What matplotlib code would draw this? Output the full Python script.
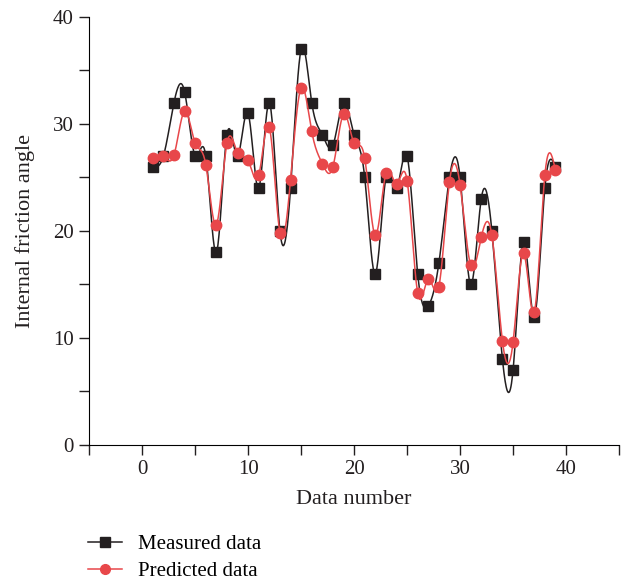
import numpy as np
import matplotlib.pyplot as plt
from matplotlib.ticker import MultipleLocator

plt.rcParams['font.family'] = ['Liberation Serif', 'DejaVu Serif']

data_number = np.arange(1, 40)
measured = [26, 27, 32, 33, 27, 27, 18, 29, 27, 31, 24, 32, 20, 24, 37, 32, 29, 28, 32, 29,
            25, 16, 25, 24, 27, 16, 13, 17, 25, 25, 15, 23, 20, 8, 7, 19, 12, 24, 26]
predicted = [26.8, 27.0, 27.1, 31.2, 28.2, 26.2, 20.6, 28.2, 27.3, 26.6, 25.2, 29.7, 19.8, 24.8,
             33.4, 29.3, 26.3, 26.0, 30.9, 28.2, 26.8, 19.6, 25.4, 24.4, 24.7, 14.2, 15.5, 14.8,
             24.6, 24.3, 16.8, 19.4, 19.6, 9.7, 9.6, 17.9, 12.4, 25.2, 25.7]


def spline(x, y, n=20):
    # natural cubic spline for the smooth connecting line
    x = np.asarray(x, float)
    y = np.asarray(y, float)
    h = np.diff(x)
    m = len(x)
    A = np.zeros((m, m))
    b = np.zeros(m)
    A[0, 0] = A[-1, -1] = 1
    for i in range(1, m - 1):
        A[i, i - 1] = h[i - 1]
        A[i, i] = 2 * (h[i - 1] + h[i])
        A[i, i + 1] = h[i]
        b[i] = 3 * ((y[i + 1] - y[i]) / h[i] - (y[i] - y[i - 1]) / h[i - 1])
    c = np.linalg.solve(A, b)
    xs, ys = [], []
    for i in range(m - 1):
        t = np.linspace(0, h[i], n, endpoint=False)
        bb = (y[i + 1] - y[i]) / h[i] - h[i] * (2 * c[i] + c[i + 1]) / 3
        d = (c[i + 1] - c[i]) / (3 * h[i])
        xs.append(x[i] + t)
        ys.append(y[i] + bb * t + c[i] * t**2 + d * t**3)
    xs.append([x[-1]])
    ys.append([y[-1]])
    return np.concatenate(xs), np.concatenate(ys)


black = '#231f20'
red = '#e8474a'

fig = plt.figure(figsize=(6.24, 5.84), dpi=100)
ax = fig.add_axes([0.143, 0.238, 0.849, 0.733])

sx, sy = spline(data_number, measured)
ax.plot(sx, sy, color=black, lw=1.1, zorder=2)
ax.plot(data_number, measured, 's', color=black, markersize=7.5, zorder=3)
px, py = spline(data_number, predicted)
ax.plot(px, py, color=red, lw=1.1, zorder=4)
ax.plot(data_number, predicted, 'o', color=red, markersize=7.5, zorder=5)

ax.set_xlim(-5, 45)
ax.set_ylim(0, 40)
ax.xaxis.set_major_locator(MultipleLocator(10))
ax.xaxis.set_minor_locator(MultipleLocator(5))
ax.yaxis.set_major_locator(MultipleLocator(10))
ax.yaxis.set_minor_locator(MultipleLocator(5))
ax.tick_params(which='both', direction='out', length=7, width=1, labelsize=15,
               colors=black, pad=4)
ax.spines['top'].set_visible(False)
ax.spines['right'].set_visible(False)
ax.set_xlabel('Data number', fontsize=16, color=black, labelpad=8)
ax.set_ylabel('Internal friction angle', fontsize=16, color=black, labelpad=13)

h1, = ax.plot([], [], 's-', color=black, markersize=7, lw=1.1)
h2, = ax.plot([], [], 'o-', color=red, markersize=7, lw=1.1)
fig.legend([h1, h2], ['Measured data', 'Predicted data'], loc='upper left',
           bbox_to_anchor=(0.141, 0.085), frameon=False, fontsize=15,
           handlelength=1.65, handletextpad=0.75, labelspacing=0.35,
           borderpad=0, borderaxespad=0)

plt.savefig('out.png', dpi=100)
